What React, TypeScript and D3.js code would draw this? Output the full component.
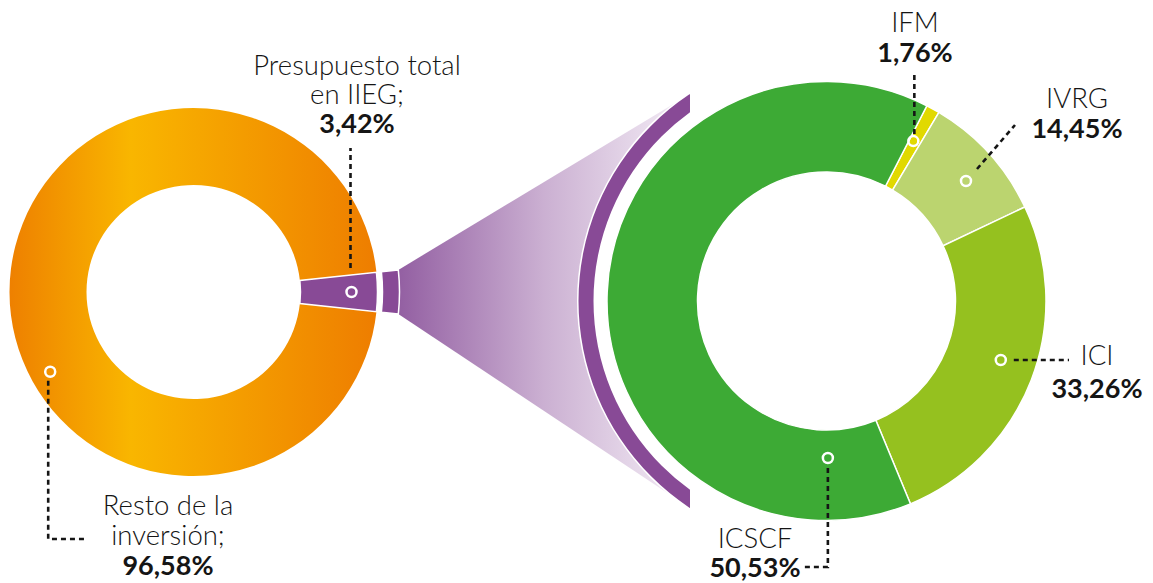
import React from 'react';
import * as d3 from 'd3';

// left donut: share of the total investment
const totalNames = ['Resto de la inversión;', 'Presupuesto total en IIEG;'];
const totalValues = [96.58, 3.42];
const totalLabels = ['96,58%', '3,42%'];

// right donut: split of the IIEG budget
const unitNames = ['IFM', 'IVRG', 'ICI', 'ICSCF'];
const unitLabels = ['1,76%', '14,45%', '33,26%', '50,53%'];
// arc sizes as they are drawn in the picture (they do not follow the printed %)
const unitArcShares = [1.0, 9.4, 25.8, 63.8];

const W = 1153;
const H = 583;
const rad = (deg: number) => (deg * Math.PI) / 180;
const polar = (cx: number, cy: number, a: number, r: number): [number, number] => [
  cx + r * Math.sin(a),
  cy - r * Math.cos(a),
];

// layout
const L = { cx: 193.5, cy: 292, r0: 107, r1: 184 };
const R = { cx: 826.5, cy: 301, r0: 129, r1: 219.5 };
const piece = { r0: 189, r1: 206 };
const band = { r0: 233, r1: 248, clipX: 690 };

const unitColors = ['#E1D900', '#BBD46F', '#95C11F', '#3DAA35'];
const purple = '#884A96';
const ink = '#151515';
const font = 'Lato, "Noto Sans", sans-serif';

const App = () => {
  // left pie, purple slice centred pointing right
  const leftPie = d3
    .pie<number>()
    .sort(null)
    .startAngle(Math.PI / 2 + (totalValues[1] / 100) * Math.PI)
    .endAngle(Math.PI / 2 + (totalValues[1] / 100) * Math.PI + 2 * Math.PI)(totalValues);
  const leftArc = d3.arc<d3.PieArcDatum<number>>().innerRadius(L.r0).outerRadius(L.r1);
  const pSlice = leftPie[1];
  const pieceArc = d3
    .arc()
    .innerRadius(piece.r0)
    .outerRadius(piece.r1)
    .startAngle(pSlice.startAngle)
    .endAngle(pSlice.endAngle);

  // right pie
  const a0 = rad(27.2);
  const rightPie = d3.pie<number>().sort(null).startAngle(a0).endAngle(a0 + 2 * Math.PI)(unitArcShares);
  const rightArc = d3.arc<d3.PieArcDatum<number>>().innerRadius(R.r0).outerRadius(R.r1);

  // fan between the detached piece and the purple band
  const tl = polar(L.cx, L.cy, pSlice.startAngle, piece.r1);
  const bl = polar(L.cx, L.cy, pSlice.endAngle, piece.r1);
  const tipDy = Math.sqrt(band.r1 * band.r1 - (band.clipX - R.cx) ** 2);
  const fanPath = d3.path();
  fanPath.moveTo(tl[0], tl[1]);
  fanPath.lineTo(band.clipX, R.cy - tipDy);
  fanPath.lineTo(band.clipX, R.cy + tipDy);
  fanPath.lineTo(bl[0], bl[1]);
  fanPath.closePath();

  const bandArc = d3
    .arc()
    .innerRadius(band.r0)
    .outerRadius(band.r1)
    .startAngle(Math.PI)
    .endAngle(2 * Math.PI);

  // markers: [angle deg, radius]
  const leftMarkers = [polar(L.cx, L.cy, rad(240.9), 164), polar(L.cx, L.cy, rad(90), 158)];
  const rightMarkerPos = [
    [28.5, 182],
    [49.3, 184],
    [108.7, 184],
    [179.5, 157],
  ];
  const rightMarkers = rightMarkerPos.map(([a, r]) => polar(R.cx, R.cy, rad(a), r));

  const lm0 = leftMarkers[0];
  const lm1 = leftMarkers[1];
  const rm = rightMarkers;
  const leaders: [number, number][][] = [
    [[lm0[0] - 2, lm0[1] + 9], [lm0[0] - 2, 539], [84, 539]],
    [[lm1[0] - 1, lm1[1] - 24], [lm1[0] - 1, 148]],
    [[rm[0][0] + 1, rm[0][1] - 7], [rm[0][0] + 1, 72]],
    [[rm[1][0] + 11, rm[1][1] - 12], [1015, 125]],
    [[rm[2][0] + 13, rm[2][1]], [1069, rm[2][1]]],
    [[rm[3][0], rm[3][1] + 10], [rm[3][0], 567], [804, 567]],
  ];
  const line = d3.line();

  // text blocks: lines, centre x, first baseline, line step
  const textBlocks = [
    { lines: ['Resto de la', 'inversión;'], pct: totalLabels[0], x: 168, y: 515, step: 30 },
    { lines: ['Presupuesto total', 'en IIEG;'], pct: totalLabels[1], x: 357, y: 75, step: 29 },
    { lines: [unitNames[0]], pct: unitLabels[0], x: 915, y: 32, step: 30 },
    { lines: [unitNames[1]], pct: unitLabels[1], x: 1077, y: 108, step: 30 },
    { lines: [unitNames[2]], pct: unitLabels[2], x: 1097, y: 365, step: 33 },
    { lines: [unitNames[3]], pct: unitLabels[3], x: 755, y: 548, step: 29 },
  ];

  return (
    <svg
      width={W}
      height={H}
      style={{ position: 'absolute', left: 0, top: 0, display: 'block', background: '#fff' }}
    >
      <defs>
        {/* local coords of the left donut group */}
        <linearGradient id="orange" gradientUnits="userSpaceOnUse" x1={-L.r1} x2={L.r1} y1={0} y2={0}>
          <stop offset="0" stopColor="#EE8000" />
          <stop offset="0.33" stopColor="#F9B600" />
          <stop offset="1" stopColor="#EE7D00" />
        </linearGradient>
        <linearGradient id="fan" gradientUnits="userSpaceOnUse" x1={tl[0]} x2={band.clipX} y1={0} y2={0}>
          <stop offset="0" stopColor="#935FA2" />
          <stop offset="0.5" stopColor="#CBB0D2" />
          <stop offset="1" stopColor="#F5EFF7" />
        </linearGradient>
        <clipPath id="bandClip">
          <rect x={0} y={0} width={band.clipX} height={H} />
        </clipPath>
      </defs>

      {/* fan */}
      <path d={fanPath.toString()} fill="url(#fan)" />
      <circle cx={R.cx} cy={R.cy} r={band.r1 + 1.5} fill="#fff" />
      <g clipPath="url(#bandClip)">
        <path
          d={bandArc({} as any) as string}
          transform={`translate(${R.cx},${R.cy})`}
          fill={purple}
        />
      </g>

      {/* left donut */}
      <g transform={`translate(${L.cx},${L.cy})`}>
        {leftPie.map((d, i) => (
          <path
            key={totalNames[i]}
            d={leftArc(d) as string}
            fill={i === 1 ? purple : 'url(#orange)'}
            stroke={i === 1 ? '#fff' : 'none'}
            strokeWidth={1.5}
          />
        ))}
        <path d={pieceArc({} as any) as string} fill={purple} stroke="#fff" strokeWidth={1.5} />
      </g>

      {/* right donut */}
      <g transform={`translate(${R.cx},${R.cy})`}>
        {rightPie.map((d, i) => (
          <path key={unitNames[i]} d={rightArc(d) as string} fill={unitColors[i]} stroke="#fff" strokeWidth={1.5} />
        ))}
      </g>

      {/* leaders */}
      {leaders.map((pts, i) => (
        <path
          key={i}
          d={line(pts) as string}
          fill="none"
          stroke={ink}
          strokeWidth={2.6}
          strokeDasharray="5 4"
        />
      ))}

      {/* markers */}
      {[...leftMarkers, ...rightMarkers].map((p, i) => (
        <circle key={i} cx={p[0]} cy={p[1]} r={5} fill="none" stroke="#fff" strokeWidth={2.5} />
      ))}

      {/* labels */}
      {textBlocks.map((b, i) => (
        <g key={i} fontFamily={font} fill={ink} textAnchor="middle">
          {b.lines.map((t, j) => (
            <text key={j} x={b.x} y={b.y + j * b.step} fontSize={27.5} fontWeight={300}>
              {t}
            </text>
          ))}
          <text x={b.x} y={b.y + b.lines.length * b.step} fontSize={27} fontWeight={700}>
            {b.pct}
          </text>
        </g>
      ))}
    </svg>
  );
};

export default App;
